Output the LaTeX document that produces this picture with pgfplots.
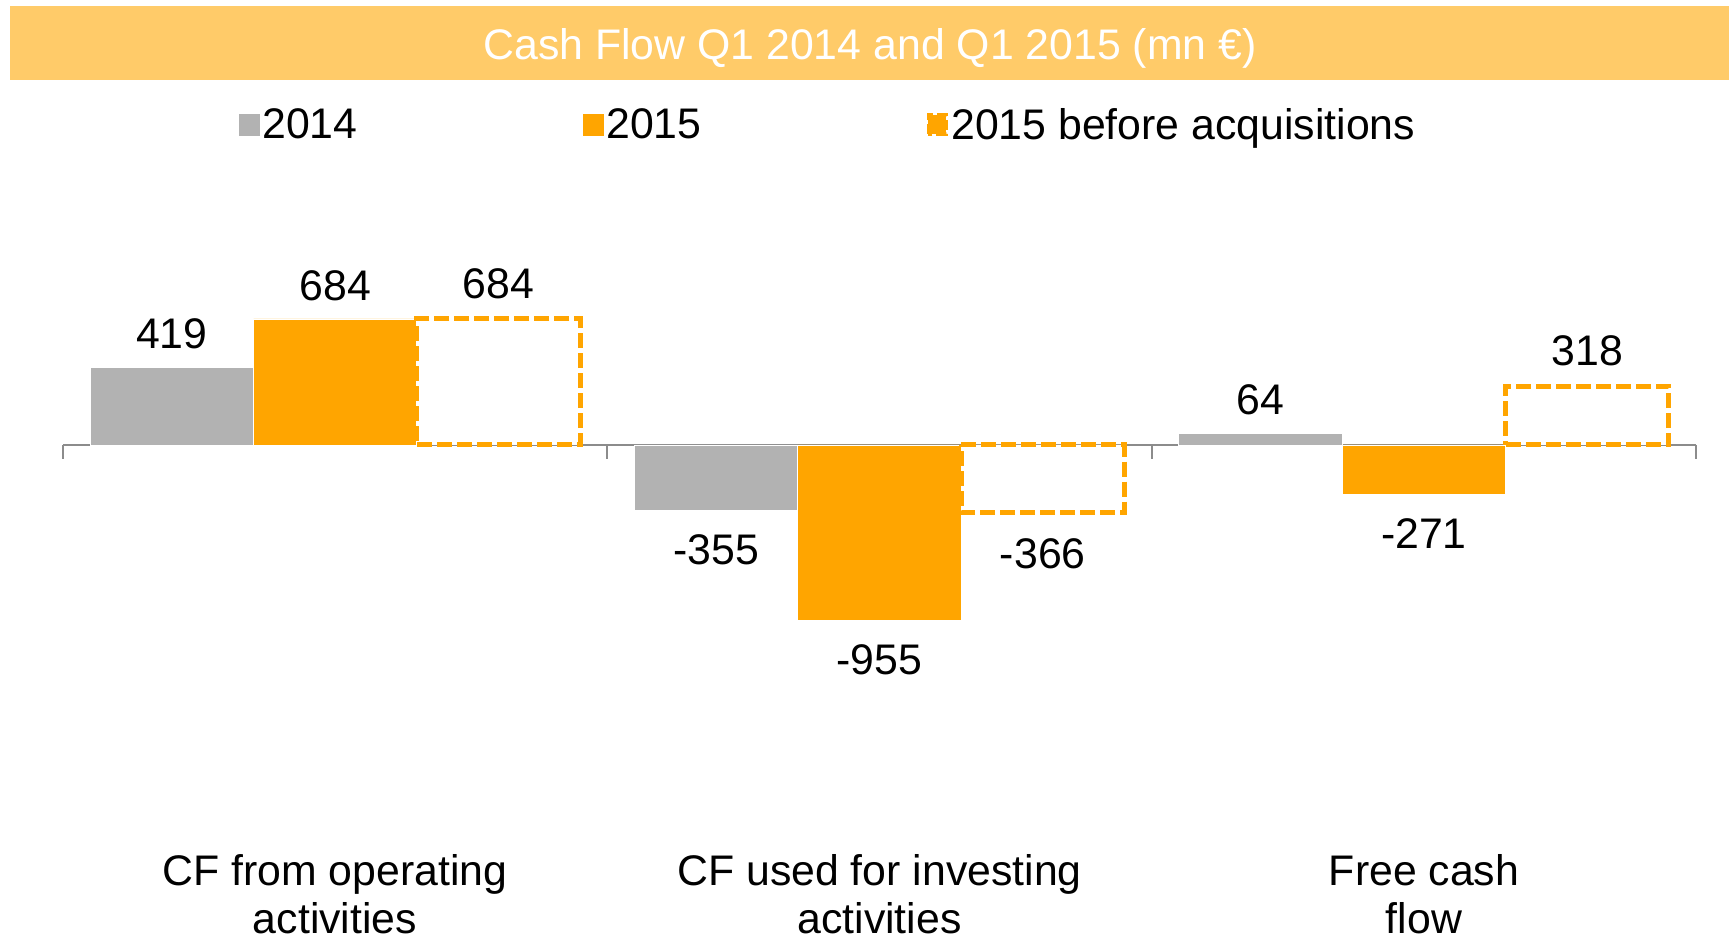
\documentclass[border=0pt]{standalone}
\usepackage{fontspec}
\setmainfont{Liberation Sans}
\usepackage{pgfplots}
\pgfplotsset{compat=1.18}
\definecolor{cgray}{RGB}{178,178,178}
\definecolor{corange}{RGB}{255,165,0}
\definecolor{cbanner}{RGB}{255,203,105}
\definecolor{caxis}{RGB}{140,140,140}
\newcommand{\vfont}{\fontsize{21.4}{25}\selectfont}
\begin{document}
\begin{tikzpicture}
\path[use as bounding box] (0,0) rectangle (864.5pt,-469.5pt);
\fill[cbanner] (5pt,-3pt) rectangle (864.5pt,-40pt);
\node[text=white, font=\fontsize{21.4}{25}\selectfont] at (435pt,-24pt) {Cash Flow Q1 2014 and Q1 2015 (mn €)};
\begin{axis}[
  at={(31.5pt,-360.5pt)}, anchor=south west,
  scale only axis, width=816.5pt, height=248.5pt,
  xmin=-0.5, xmax=2.5, ymin=-1500, ymax=1200,
  axis lines=none,
  clip=false,
  ybar, bar width=0.3,
  /pgf/number format/assume math mode=true,
  visualization depends on={y \as \rawy},
  nodes near coords, nodes near coords align={vertical},
  every node near coord/.append style={font=\vfont, text=black, inner xsep=0pt, inner ysep=9pt,
    yshift={ifthenelse(\rawy<0,-2.75,0)}},
  legend columns=3,
  legend style={at={(0.4687,1.199)}, anchor=center, draw=none, fill=none, font=\vfont,
    nodes={inner xsep=1.5pt, inner ysep=2pt},
    /tikz/every even column/.append style={column sep=111pt}},
]
\draw[caxis, line width=1pt] (axis cs:-0.5,0) -- (axis cs:2.5,0);
\draw[caxis, line width=1pt] (axis cs:-0.5,0) -- ([yshift=-7pt]axis cs:-0.5,0);
\draw[caxis, line width=1pt] (axis cs:0.5,0) -- ([yshift=-7pt]axis cs:0.5,0);
\draw[caxis, line width=1pt] (axis cs:1.5,0) -- ([yshift=-7pt]axis cs:1.5,0);
\draw[caxis, line width=1pt] (axis cs:2.5,0) -- ([yshift=-7pt]axis cs:2.5,0);
\addplot[fill=cgray, draw=white, line width=0.4pt, bar shift=-0.3,
  legend image code/.code={\fill[cgray] (0pt,-5pt) rectangle (10pt,5.5pt);}]
  coordinates {(0,419) (1,-355) (2,64)};
\addlegendentry{2014}
\addplot[fill=corange, draw=white, line width=0.4pt, bar shift=0,
  legend image code/.code={\fill[corange] (0pt,-5pt) rectangle (10pt,5.5pt);}]
  coordinates {(0,684) (1,-955) (2,-271)};
\addlegendentry{2015}
\addplot[fill=white, draw=corange, line width=2.5pt, dash pattern=on 7.5pt off 2.5pt, bar shift=0.3,
  legend image code/.code={\draw[corange, line width=1.8pt, dash pattern=on 5pt off 2pt] (1pt,-4.5pt) rectangle (10pt,5pt);}]
  coordinates {(0,684) (1,-366) (2,318)};
\addlegendentry{2015 before acquisitions}
\end{axis}
\begin{scope}[font=\vfont]
\node[anchor=base] at (167.5pt,-442.7pt) {CF from operating};
\node[anchor=base] at (167.5pt,-466.5pt) {activities};
\node[anchor=base] at (439.75pt,-442.7pt) {CF used for investing};
\node[anchor=base] at (439.75pt,-466.5pt) {activities};
\node[anchor=base] at (712pt,-442.7pt) {Free cash};
\node[anchor=base] at (712pt,-466.5pt) {flow};
\end{scope}
\end{tikzpicture}
\end{document}
